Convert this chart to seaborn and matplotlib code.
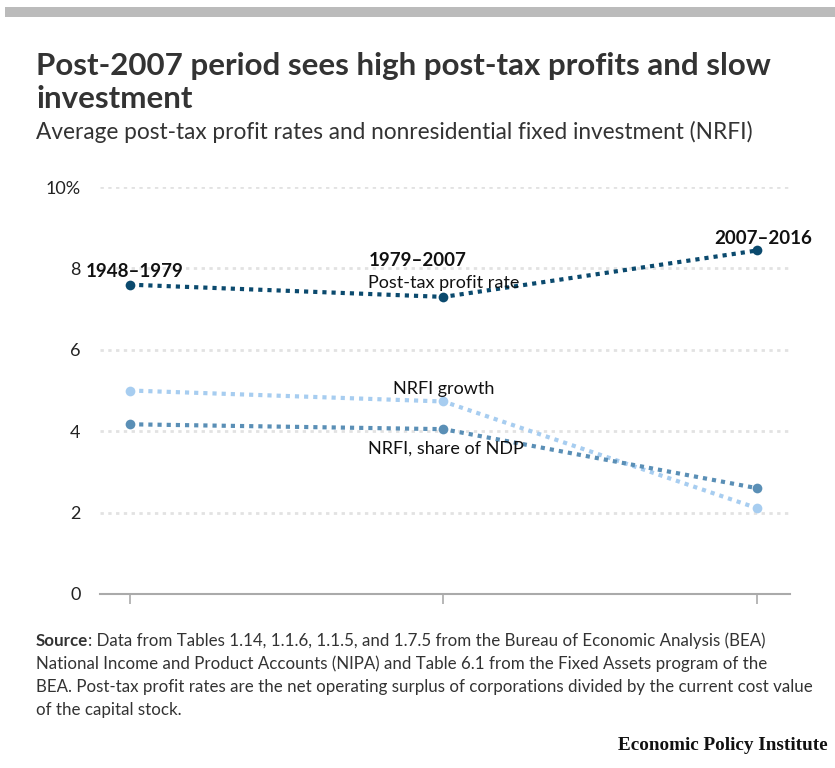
import matplotlib
matplotlib.use("Agg")
import matplotlib.pyplot as plt
import seaborn as sns
import pandas as pd
from matplotlib.patches import Rectangle

periods = ["1948–1979", "1979–2007", "2007–2016"]
profit_rate = [7.60, 7.30, 8.44]
nrfi_growth = [5.00, 4.73, 2.11]
nrfi_share = [4.17, 4.05, 2.60]
series_names = ["Post-tax profit rate", "NRFI growth", "NRFI, share of NDP"]
yticks = [0, 2, 4, 6, 8, 10]
ytick_labels = ["0", "2", "4", "6", "8", "10%"]

colors = {"Post-tax profit rate": "#0b4a6e",
          "NRFI growth": "#a7cdf0",
          "NRFI, share of NDP": "#5a8fb6"}

rows = []
for name, vals in zip(series_names, [profit_rate, nrfi_growth, nrfi_share]):
    for i, (p, v) in enumerate(zip(periods, vals)):
        rows.append({"x": i, "period": p, "series": name, "value": v})
df = pd.DataFrame(rows)

sns.set_theme(style="white")
plt.rcParams["font.family"] = ["Lato", "DejaVu Sans"]

fig = plt.figure(figsize=(8.35, 7.68), dpi=100)
ax = fig.add_axes([100/835, 1-594/768, 690/835, (594-187)/768])

# grid lines
for t in yticks[1:]:
    ax.axhline(t, color="#e2e2e2", lw=2, ls=(0, (1.2, 1.6)), zorder=0)

order = ["NRFI growth", "NRFI, share of NDP", "Post-tax profit rate"]
for name in order:
    sub = df[df.series == name]
    sns.lineplot(data=sub, x="x", y="value", ax=ax, color=colors[name],
                 lw=3, ls=(0, (1, 1.2)), marker="o", markersize=7,
                 markeredgewidth=0, legend=False, clip_on=False)

ax.set_xlim(-30/313.5, 2 + 33/313.5)
ax.set_ylim(0, 10)
ax.set_xticks([0, 1, 2])
ax.set_xticklabels(["", "", ""])
ax.set_yticks(yticks)
ax.set_yticklabels(ytick_labels)
ax.set_xlabel("")
ax.set_ylabel("")
for s in ["top", "right", "left"]:
    ax.spines[s].set_visible(False)
ax.spines["bottom"].set_color("#aaaaaa")
ax.spines["bottom"].set_linewidth(1.5)
ax.tick_params(axis="x", direction="out", length=7, width=1.2, color="#aaaaaa", bottom=True)
ax.tick_params(axis="y", length=0, pad=14, labelsize=13, labelcolor="#222222")
for lbl in ax.get_yticklabels():
    lbl.set_horizontalalignment("right")

# annotations
ax.text(-0.14, profit_rate[0] + 0.32, periods[0], fontsize=13.5, fontweight="bold",
        color="#111111", ha="left", va="center")
ax.text(0.76, profit_rate[1] + 0.9, periods[1], fontsize=13.5, fontweight="bold",
        color="#111111", ha="left", va="center")
ax.text(2.02, profit_rate[2] + 0.3, periods[2], fontsize=13.5, fontweight="bold",
        color="#111111", ha="center", va="center")
ax.text(0.76, profit_rate[1] + 0.33, "Post-tax profit rate", fontsize=13,
        color="#111111", ha="left", va="center")
ax.text(1.0, nrfi_growth[1] + 0.3, "NRFI growth", fontsize=13,
        color="#111111", ha="center", va="center")
ax.text(0.76, nrfi_share[1] - 0.48, "NRFI, share of NDP", fontsize=13,
        color="#111111", ha="left", va="center")

# header
fig.patches.append(Rectangle((5/835, 1-17/768), 830/835, 10/768,
                             transform=fig.transFigure, color="#bbbbbb", lw=0))
fig.text(36/835, 1-66/768, "Post-2007 period sees high post-tax profits and slow",
         fontsize=22.5, fontweight="bold", color="#333333", va="center")
fig.text(36/835, 1-99/768, "investment",
         fontsize=22.5, fontweight="bold", color="#333333", va="center")
fig.text(36/835, 1-132/768,
         "Average post-tax profit rates and nonresidential fixed investment (NRFI)",
         fontsize=16.3, color="#333333", va="center")

src_lines = [
    "Data from Tables 1.14, 1.1.6, 1.1.5, and 1.7.5 from the Bureau of Economic Analysis (BEA)",
    "National Income and Product Accounts (NIPA) and Table 6.1 from the Fixed Assets program of the",
    "BEA. Post-tax profit rates are the net operating surplus of corporations divided by the current cost value",
    "of the capital stock.",
]
y0 = 641
t = fig.text(36/835, 1-y0/768, "Source", fontsize=12.2, fontweight="bold",
             color="#333333", va="center")
fig.canvas.draw()
bb = t.get_window_extent()
fig.text(bb.x1/835, 1-y0/768, ": " + src_lines[0], fontsize=12.2, color="#333333", va="center")
for i, line in enumerate(src_lines[1:]):
    fig.text(36/835, 1-(y0+23*(i+1))/768, line, fontsize=12.2, color="#333333", va="center")

fig.text(828/835, 1-745/768, "Economic Policy Institute", fontsize=13.8,
         fontweight="bold", family=["Liberation Serif", "DejaVu Serif"],
         color="#111111", ha="right", va="center")

fig.savefig("out.png", dpi=100)
